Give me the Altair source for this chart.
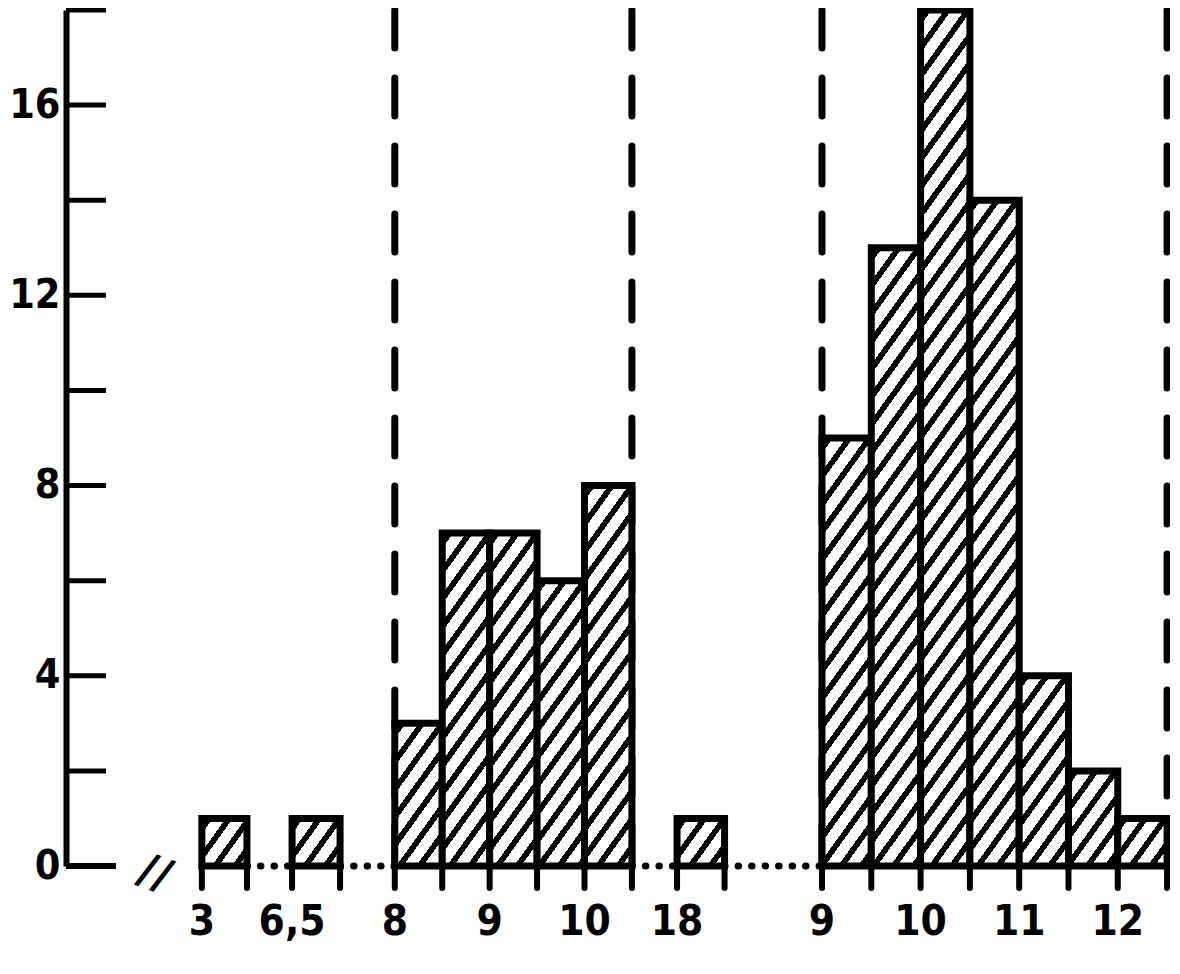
import altair as alt
import pandas as pd

# ---------------- data ----------------
ISO_LABELS = ["3", "6,5", "18"]          # isolated single classes
ISO_COUNTS = [1, 1, 1]
W1_STARTS = [8.0, 8.5, 9.0, 9.5, 10.0]   # first window, class width 0.5
W1_COUNTS = [3, 7, 7, 6, 8]
W2_STARTS = [9.0, 9.5, 10.0, 10.5, 11.0, 11.5, 12.0]  # second window
W2_COUNTS = [9, 13, 18, 14, 4, 2, 1]
Y_TICKS = [2, 4, 6, 8, 10, 12, 14, 16, 18]
Y_LABELS = [0, 4, 8, 12, 16]

# ---------------- layout of the broken x axis (slot units) ----------------
ISO_POS = [2.83, 4.71, 12.73]
ISO_WIDTH = [0.94, 1.0, 0.99]
W1_POS, W1_BIN = 6.85, 0.988
W2_POS, W2_BIN = 15.75, 1.027
X_MAX, Y_MAX = 23.0, 18
W, H = 1104, 856
PX_X = W / X_MAX
PX_Y = H / Y_MAX
FONT = "Liberation Sans Narrow, DejaVu Sans Condensed, sans-serif"

# ---------------- build tables ----------------
bars, labels, blocks = [], [], []


def add_iso(i):
    x0 = ISO_POS[i]
    x1 = x0 + ISO_WIDTH[i]
    bars.append(dict(x0=x0, x1=x1, count=ISO_COUNTS[i], base=0))
    labels.append(dict(pos=x0, label=ISO_LABELS[i]))
    blocks.append((x0, x1))


def add_window(pos, binw, starts, counts):
    for j, (s, c) in enumerate(zip(starts, counts)):
        x0 = pos + j * binw
        bars.append(dict(x0=x0, x1=x0 + binw, count=c, base=0))
        if float(s).is_integer():
            labels.append(dict(pos=x0, label=str(int(s))))
    blocks.append((pos, pos + len(starts) * binw))


add_iso(0)
add_iso(1)
add_window(W1_POS, W1_BIN, W1_STARTS, W1_COUNTS)
add_iso(2)
add_window(W2_POS, W2_BIN, W2_STARTS, W2_COUNTS)

bars_df = pd.DataFrame(bars)
labels_df = pd.DataFrame(labels)
edges = sorted({round(v, 4) for b in bars for v in (b["x0"], b["x1"])})
edges_df = pd.DataFrame({"e": edges, "z": 0})
gaps_df = pd.DataFrame(
    [dict(a=blocks[i][1], b=blocks[i + 1][0], z=0) for i in range(len(blocks) - 1)]
)
windows = [W1_POS, W1_POS + len(W1_STARTS) * W1_BIN,
           W2_POS, W2_POS + len(W2_STARTS) * W2_BIN]
dash_df = pd.DataFrame({"d": windows})
yt_df = pd.DataFrame({"v": Y_TICKS})
zero_df = pd.DataFrame({"v": [0]})
brk_df = pd.DataFrame({"pos": [1.85], "label": ["//"]})

xscale = alt.Scale(domain=[0, X_MAX], nice=False, zero=False)
yscale = alt.Scale(domain=[0, Y_MAX], nice=False)
yaxis = alt.Axis(values=Y_LABELS, ticks=False, tickSize=0, grid=False,
                 domainColor="black", domainWidth=6, labelFont=FONT,
                 labelFontSize=41, labelFontWeight="bold", labelColor="black",
                 labelPadding=6, title=None)


def X(f):
    return alt.X(f, scale=xscale, axis=None, title=None)


def Y(f):
    return alt.Y(f, scale=yscale, axis=yaxis, title=None)


def hatch(wpx, hpx, k=0.72, period=20.0, dark=7.0, phase=4.0):
    C = wpx + k * hpx
    lam = C / (wpx ** 2 + (k * hpx) ** 2)
    stops = [{"offset": 0, "color": "white"}]
    c = phase
    while c < C:
        a = c / C
        b = min((c + dark) / C, 1.0)
        stops += [{"offset": a, "color": "white"}, {"offset": a, "color": "black"},
                  {"offset": b, "color": "black"}, {"offset": b, "color": "white"}]
        c += period
    stops.append({"offset": 1, "color": "white"})
    return {"gradient": "linear", "x1": 0, "y1": 0,
            "x2": lam * wpx, "y2": lam * k * hpx, "stops": stops}


layers = []

# dashed window limits
layers.append(
    alt.Chart(dash_df).mark_rule(color="black", strokeWidth=7, strokeDash=[38, 30],
                                 strokeCap="round")
    .encode(x=X("d:Q"), y=alt.value(0), y2=alt.value(H))
)

# inner y ticks
layers.append(
    alt.Chart(yt_df).mark_rule(color="black", strokeWidth=5)
    .encode(y=Y("v:Q"), x=alt.value(0), x2=alt.value(40))
)
layers.append(
    alt.Chart(zero_df).mark_rule(color="black", strokeWidth=6)
    .encode(y=Y("v:Q"), x=alt.value(0), x2=alt.value(50))
)

# dotted baseline between blocks
layers.append(
    alt.Chart(gaps_df).mark_rule(color="black", strokeWidth=7, strokeDash=[0.5, 13],
                                 strokeCap="round")
    .encode(x=X("a:Q"), x2="b:Q", y=Y("z:Q"))
)

# edge ticks below baseline
layers.append(
    alt.Chart(edges_df).mark_rule(color="black", strokeWidth=6, strokeCap="round")
    .encode(x=X("e:Q"), y=Y("z:Q"), y2=alt.value(H + 22))
)

# hatched bars (one layer per bar so each gets its own hatch gradient)
for b in bars:
    wpx = (b["x1"] - b["x0"]) * PX_X
    hpx = b["count"] * PX_Y
    layers.append(
        alt.Chart(pd.DataFrame([b])).mark_rect(
            fill=hatch(wpx, hpx), stroke="black", strokeWidth=7, strokeJoin="miter")
        .encode(x=X("x0:Q"), x2="x1:Q", y=Y("count:Q"), y2="base:Q")
    )

# x labels
layers.append(
    alt.Chart(labels_df).mark_text(font=FONT, fontSize=42, fontWeight="bold",
                                   color="black", align="center", baseline="middle")
    .encode(x=X("pos:Q"), y=alt.value(H + 56), text="label:N")
)

# axis break mark
layers.append(
    alt.Chart(brk_df).mark_text(font="DejaVu Sans", fontSize=44, fontWeight="bold",
                                color="black", align="center", baseline="middle",
                                angle=20)
    .encode(x=X("pos:Q"), y=alt.value(H + 8), text="label:N")
)

chart = (
    alt.layer(*layers)
    .properties(width=W, height=H, autosize="none",
                padding={"left": 58, "top": 2, "right": 0, "bottom": 96},
                background="white")
    .configure_view(stroke=None)
)

chart.save("out.html", embed_options={"renderer": "svg", "actions": False})
